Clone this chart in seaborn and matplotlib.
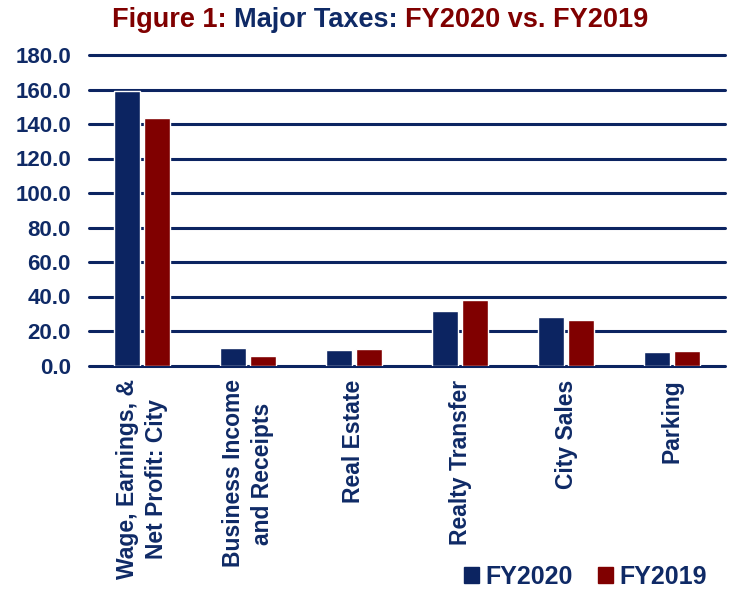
import pandas as pd
import numpy as np
import seaborn as sns
import matplotlib.pyplot as plt
from matplotlib.patches import Patch

# 数据
categories = ['Wage, Earnings, &\nNet Profit: City', 'Business Income\nand Receipts',
              'Real Estate', 'Realty Transfer', 'City Sales', 'Parking']
fy2020 = [159.3, 10.3, 8.8, 31.7, 28.3, 8.0]
fy2019 = [143.7, 5.7, 9.4, 38.2, 26.2, 8.6]
yticks = [0, 20, 40, 60, 80, 100, 120, 140, 160, 180]

df = pd.DataFrame({
    'cat': categories * 2,
    'year': ['FY2020'] * len(categories) + ['FY2019'] * len(categories),
    'value': fy2020 + fy2019,
})

navy = '#0c2461'
red = '#800000'
text_navy = '#0f2a66'

sns.set_theme(style='white')
plt.rcParams['font.family'] = ['Liberation Sans', 'DejaVu Sans']

fig = plt.figure(figsize=(7.32, 5.89), dpi=100)
ax = fig.add_axes([89 / 732, 1 - 365.5 / 589, 636 / 732, 310.5 / 589])

sns.barplot(data=df, x='cat', y='value', hue='year', order=categories,
            hue_order=['FY2020', 'FY2019'], palette=[navy, red],
            width=0.566, gap=0.15, ax=ax, legend=False, saturation=1)

ax.set_ylim(0, 180)
ax.set_xlim(-0.5, len(categories) - 0.5)
ax.set_yticks(yticks)
ax.set_yticklabels([f'{v:.1f}' for v in yticks], fontsize=16, fontweight='bold',
                   color=text_navy)
ax.set_xticks(range(len(categories)))
ax.set_xticklabels(categories, rotation=90, fontsize=16.5, fontweight='bold',
                   color=text_navy, linespacing=1.35, ha='center', va='top',
                   multialignment='center')
ax.set_xlabel('')
ax.set_ylabel('')
ax.tick_params(axis='y', length=0, pad=13)
ax.tick_params(axis='x', length=0, pad=10)

# 网格线
for v in yticks:
    ax.axhline(v, color=navy, lw=2.2, zorder=0.5, clip_on=False)
for s in ax.spines.values():
    s.set_visible(False)

# 标题（多色）
parts = [('Figure 1: ', red), ('Major Taxes: ', text_navy), ('FY2020 vs. FY2019', red)]
fig.canvas.draw()
r = fig.canvas.get_renderer()
widths = []
tmp = []
for s, c in parts:
    t = fig.text(0, 0, s, fontsize=19.5, fontweight='bold', color=c, va='center')
    widths.append(t.get_window_extent(r).width)
    tmp.append(t)
total = sum(widths)
x0 = (380 - total / 2) / 732
for t, w in zip(tmp, widths):
    t.set_position((x0, 1 - 20 / 589))
    x0 += w / 732

# 图例
handles = [Patch(color=navy, label='FY2020'), Patch(color=red, label='FY2019')]
leg = fig.legend(handles=handles, loc='center right', bbox_to_anchor=(719 / 732, 1 - 577 / 589),
                 ncol=2, frameon=False, handlelength=0.6, handleheight=0.6,
                 handletextpad=0.25, columnspacing=1.0, borderpad=0,
                 prop={'size': 18, 'weight': 'bold'})
for t in leg.get_texts():
    t.set_color(text_navy)

fig.savefig('out.png', dpi=100)
